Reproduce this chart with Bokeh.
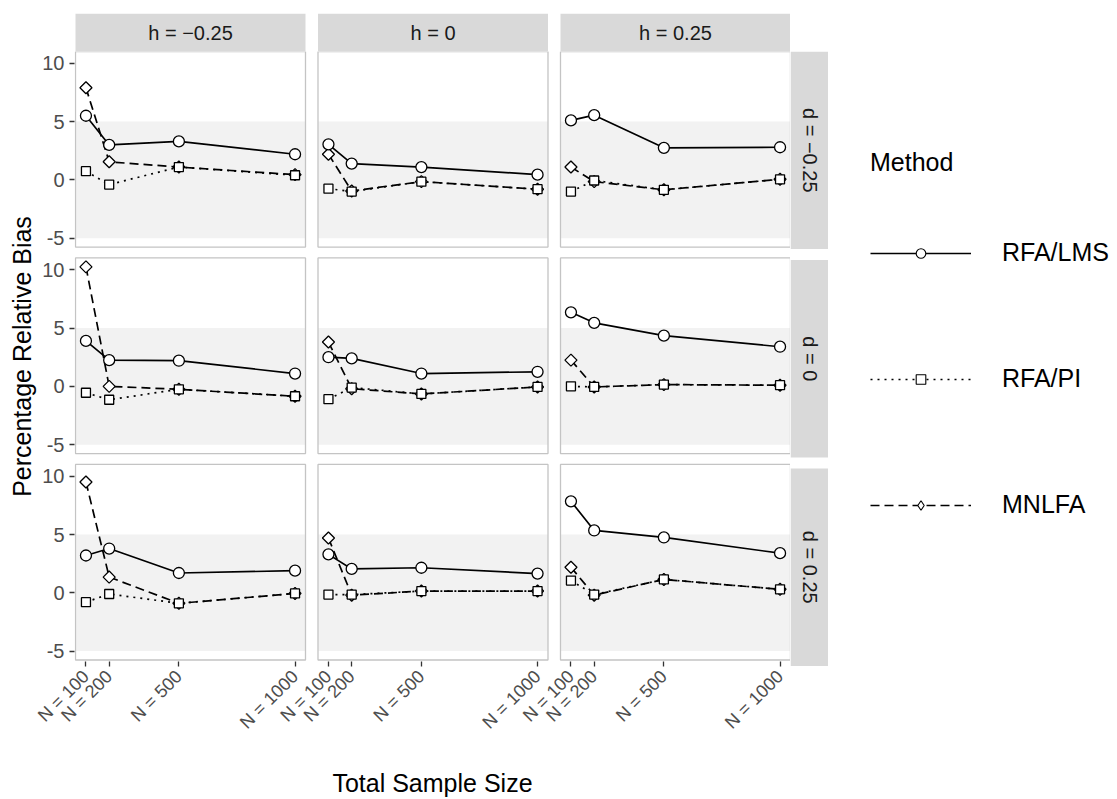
import math
from bokeh.plotting import figure
from bokeh.layouts import row, column
from bokeh.models import Range1d, FixedTicker, Legend, LegendItem
from bokeh.core.properties import value
from bokeh.embed import file_html
from bokeh.resources import INLINE

# ---------------- data ----------------
sample_sizes = [100, 200, 500, 1000]
x_tick_labels = ["N = 100", "N = 200", "N = 500", "N = 1000"]
h_levels = ["h = \u22120.25", "h = 0", "h = 0.25"]
d_levels = ["d = \u22120.25", "d = 0", "d = 0.25"]
y_ticks = [-5, 0, 5, 10]
y_tick_labels = ["-5", "0", "5", "10"]
band = [-5, 5]
methods = ["RFA/LMS", "RFA/PI", "MNLFA"]

# each list: panels for h = -0.25, 0, 0.25 ; values at N = 100, 200, 500, 1000
lms_d_neg = [[5.5, 3.0, 3.3, 2.2], [3.05, 1.4, 1.1, 0.45], [5.1, 5.55, 2.75, 2.8]]
lms_d_zero = [[3.9, 2.25, 2.2, 1.1], [2.5, 2.4, 1.1, 1.25], [6.35, 5.45, 4.35, 3.4]]
lms_d_pos = [[3.2, 3.8, 1.7, 1.9], [3.3, 2.05, 2.15, 1.65], [7.85, 5.35, 4.75, 3.4]]

pi_d_neg = [[0.75, -0.4, 1.1, 0.4], [-0.75, -1.0, -0.15, -0.8], [-1.0, -0.05, -0.85, 0.05]]
pi_d_zero = [[-0.55, -1.15, -0.25, -0.85], [-1.1, -0.1, -0.65, -0.05], [0.0, -0.05, 0.15, 0.1]]
pi_d_pos = [[-0.8, -0.1, -0.9, -0.05], [-0.15, -0.15, 0.15, 0.15], [1.05, -0.15, 1.15, 0.3]]

mnlfa_d_neg = [[7.9, 1.55, 1.1, 0.45], [2.2, -0.95, -0.15, -0.8], [1.1, -0.15, -0.85, 0.05]]
mnlfa_d_zero = [[10.25, 0.0, -0.25, -0.85], [3.8, -0.2, -0.65, -0.05], [2.25, -0.05, 0.15, 0.1]]
mnlfa_d_pos = [[9.5, 1.35, -0.9, -0.05], [4.7, -0.2, 0.15, 0.15], [2.2, -0.2, 1.15, 0.3]]

series = {
    "RFA/LMS": [lms_d_neg, lms_d_zero, lms_d_pos],
    "RFA/PI": [pi_d_neg, pi_d_zero, pi_d_pos],
    "MNLFA": [mnlfa_d_neg, mnlfa_d_zero, mnlfa_d_pos],
}

# ---------------- panel scales (ggplot-like 5% expansion) ----------------
all_vals = [v for m in methods for rowv in series[m] for pv in rowv for v in pv] + band
x_lo = min(sample_sizes) - 0.05 * (max(sample_sizes) - min(sample_sizes))
x_hi = max(sample_sizes) + 0.05 * (max(sample_sizes) - min(sample_sizes))
y_lo = min(all_vals) - 0.05 * (max(all_vals) - min(all_vals))
y_hi = max(all_vals) + 0.05 * (max(all_vals) - min(all_vals))

# ---------------- layout (pixels) ----------------
W, H = 1117, 799
FL = 74                     # main frame left
PX0, PW, PSX = 75, 230, 242.5
PY0, PH, PSY = 51, 197.5, 208.5
FB = 667                    # main frame bottom
STRIP_TOP = 13
MAIN_W = int(PX0 + 2 * PSX + PW)   # 790
STRIP_RW = 38
LEG_W = W - MAIN_W - STRIP_RW

kx = (x_hi - x_lo) / PW
ky = (y_hi - y_lo) / PH
XOFF = PSX * kx
YOFF = PSY * ky


def gx(j, x):
    return x + j * XOFF


def gy(i, y):
    return y - i * YOFF


xr = Range1d(x_lo - (PX0 - FL) * kx, x_lo + (MAIN_W - PX0) * kx)
last_bottom = PY0 + 2 * PSY + PH
yr = Range1d(gy(2, y_lo) - (FB - last_bottom) * ky, y_hi)

FONT = "Liberation Sans"


def bare(fig):
    fig.grid.visible = False
    fig.outline_line_color = None
    fig.background_fill_color = "white"
    fig.border_fill_color = "white"
    return fig


# ---------------- main panel grid ----------------
p = bare(figure(width=MAIN_W, height=H - PY0, x_range=xr, y_range=yr,
                output_backend="svg", toolbar_location=None,
                min_border_left=FL, min_border_right=0, min_border_top=0,
                min_border_bottom=H - FB))

bl, br, bb, bt, pb, pt = [], [], [], [], [], []
for i in range(3):
    for j in range(3):
        bl.append(gx(j, x_lo)); br.append(gx(j, x_hi))
        bb.append(gy(i, band[0])); bt.append(gy(i, band[1]))
        pb.append(gy(i, y_lo)); pt.append(gy(i, y_hi))
p.quad(left=bl, right=br, bottom=bb, top=bt, fill_color="#F2F2F2", line_color=None)

styles = {
    "RFA/LMS": dict(dash="solid", marker="circle", size=11, angle=0.0, leg_marker="circle"),
    "RFA/PI": dict(dash="2 5", marker="square", size=9, angle=0.0, leg_marker="square"),
    "MNLFA": dict(dash="9 5", marker="square", size=8.5, angle=math.pi / 4, leg_marker="diamond"),
}

for m in methods:
    xs, ys = [], []
    for i in range(3):
        for j in range(3):
            xs.append([gx(j, n) for n in sample_sizes])
            ys.append([gy(i, v) for v in series[m][i][j]])
    p.multi_line(xs=xs, ys=ys, line_color="black", line_width=1.7,
                 line_dash=styles[m]["dash"])

for m in ["MNLFA", "RFA/PI", "RFA/LMS"]:
    px, py = [], []
    for i in range(3):
        for j in range(3):
            px += [gx(j, n) for n in sample_sizes]
            py += [gy(i, v) for v in series[m][i][j]]
    st = styles[m]
    p.scatter(x=px, y=py, marker=st["marker"], size=st["size"], angle=st["angle"],
              fill_color="white", line_color="black", line_width=1.3)

p.quad(left=bl, right=br, bottom=pb, top=pt, fill_color=None,
       line_color="#C4C4C4", line_width=1.3)

xt = [gx(j, n) for j in range(3) for n in sample_sizes]
p.xaxis.ticker = FixedTicker(ticks=xt)
p.xaxis.major_label_overrides = {gx(j, n): lab for j in range(3)
                                 for n, lab in zip(sample_sizes, x_tick_labels)}
p.xaxis.major_label_orientation = math.pi / 4
yt = [gy(i, v) for i in range(3) for v in y_ticks]
p.yaxis.ticker = FixedTicker(ticks=yt)
p.yaxis.major_label_overrides = {gy(i, v): lab for i in range(3)
                                 for v, lab in zip(y_ticks, y_tick_labels)}
for ax in (p.xaxis, p.yaxis):
    ax.axis_line_color = None
    ax.minor_tick_line_color = None
    ax.major_tick_line_color = "#333333"
    ax.major_tick_line_width = 1.3
    ax.major_tick_out = 5
    ax.major_tick_in = 0
    ax.major_label_text_font = FONT
    ax.major_label_text_color = "#4D4D4D"
    ax.axis_label_text_font = FONT
    ax.axis_label_text_font_size = "25px"
    ax.axis_label_text_font_style = "normal"
    ax.axis_label_text_color = "black"
p.yaxis.major_label_text_font_size = "20px"
p.yaxis.major_label_standoff = 5
p.yaxis.axis_label = "Percentage Relative Bias"
p.yaxis.axis_label_standoff = 3
p.xaxis.major_label_text_font_size = "18px"
p.xaxis.major_label_standoff = 7
p.xaxis.axis_label = "Total Sample Size"
p.xaxis.axis_label_standoff = 26

# ---------------- top strips ----------------
top = bare(figure(width=MAIN_W, height=PY0, x_range=xr, y_range=Range1d(0, 1),
                  output_backend="svg", toolbar_location=None,
                  x_axis_type=None, y_axis_type=None,
                  min_border_left=FL, min_border_right=0, min_border_top=STRIP_TOP,
                  min_border_bottom=0))
top.quad(left=[gx(j, x_lo) for j in range(3)], right=[gx(j, x_hi) for j in range(3)],
         bottom=[0] * 3, top=[1] * 3, fill_color="#D9D9D9", line_color=None)
top.text(x=[gx(j, (x_lo + x_hi) / 2) for j in range(3)], y=[0.5] * 3, text=h_levels,
         text_align="center", text_baseline="middle",
         text_font=value(FONT), text_font_size="20px", text_color="#1A1A1A")

# ---------------- right strips ----------------
rs = bare(figure(width=STRIP_RW, height=H, x_range=Range1d(0, 1), y_range=yr,
                 output_backend="svg", toolbar_location=None,
                 x_axis_type=None, y_axis_type=None,
                 min_border_left=0, min_border_right=0, min_border_top=PY0,
                 min_border_bottom=H - FB))
rs.quad(left=[0] * 3, right=[1] * 3, bottom=[gy(i, y_lo) for i in range(3)],
        top=[gy(i, y_hi) for i in range(3)], fill_color="#D9D9D9", line_color=None)
rs.text(x=[0.5] * 3, y=[gy(i, (y_lo + y_hi) / 2) for i in range(3)], text=d_levels,
        angle=-math.pi / 2, text_align="center", text_baseline="middle",
        text_font=value(FONT), text_font_size="20px", text_color="#1A1A1A")

# ---------------- legend (its renderers hold the first panel's data, out of view) ----
lg = bare(figure(width=LEG_W, height=H, x_range=Range1d(0, 1), y_range=Range1d(0, 1),
                 output_backend="svg", toolbar_location=None,
                 x_axis_type=None, y_axis_type=None,
                 min_border_left=0, min_border_right=0, min_border_top=PY0,
                 min_border_bottom=H - FB))
items = []
for m in methods:
    st = styles[m]
    lr = lg.line(x=sample_sizes, y=series[m][0][0], line_color="black", line_width=1.6,
                 line_dash=st["dash"])
    sr = lg.scatter(x=sample_sizes, y=series[m][0][0], marker=st["leg_marker"],
                    fill_color="white", line_color="black", line_width=1.1)
    items.append(LegendItem(label=m, renderers=[lr, sr]))
legend = Legend(items=items, location=(870 - MAIN_W - STRIP_RW, FB - 519), title="Method",
                title_text_font=FONT, title_text_font_size="25px", title_text_font_style="normal",
                title_text_color="black", title_standoff=61,
                label_text_font=FONT, label_text_font_size="25px", label_text_color="black",
                glyph_width=101, glyph_height=24, label_height=29, label_standoff=31,
                spacing=97, padding=0, margin=0, border_line_color=None,
                background_fill_alpha=0)
lg.add_layout(legend)

layout = row(column(top, p), rs, lg)
open("out.html", "w").write(file_html(layout, INLINE))
